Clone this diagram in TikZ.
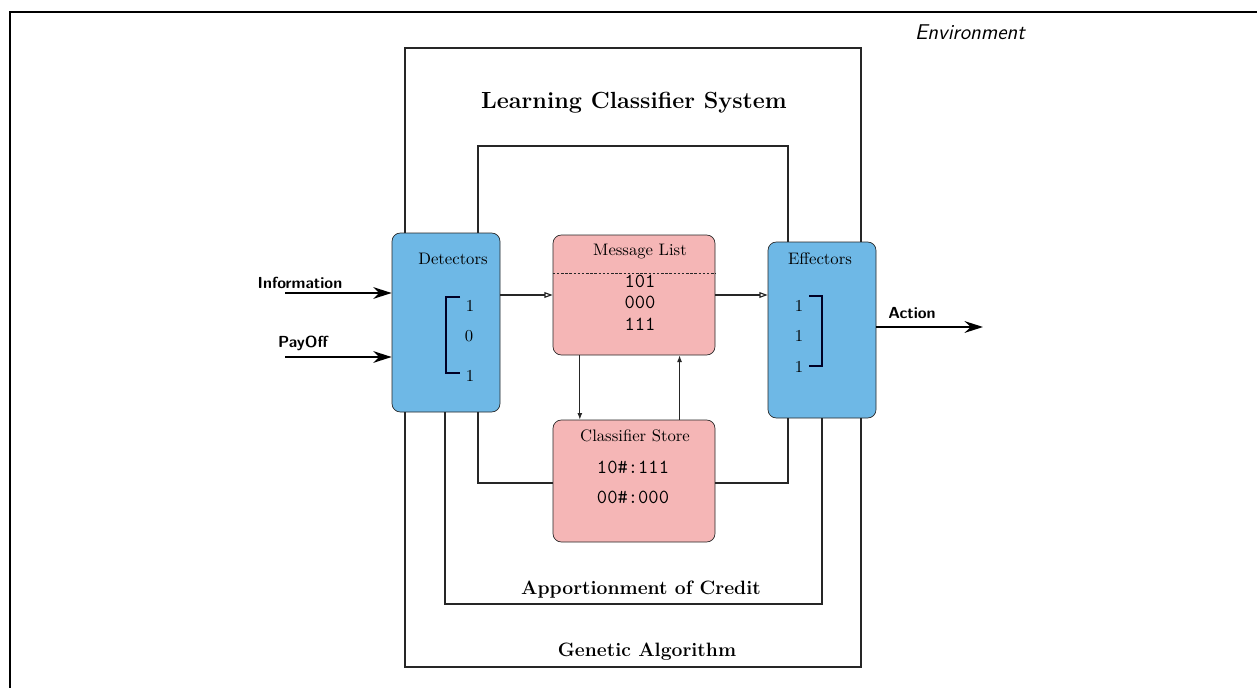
\documentclass[tikz,border=0pt]{standalone}
\usepackage{xcolor}
\usepackage{tikz}
\usetikzlibrary{calc,arrows.meta}
\definecolor{skyb}{RGB}{110,184,230}
\definecolor{rosy}{RGB}{245,182,182}
\colorlet{edge}{black!85}
\colorlet{ink}{black!75!blue!60!black}
\tikzstyle{bl}=[draw=edge,fill=skyb,rounded corners=5pt,inner sep=0pt,minimum width=64.8pt]
\tikzstyle{pk}=[draw=edge,fill=rosy,rounded corners=5pt,inner sep=0pt,minimum width=97.2pt]
\tikzstyle{wire}=[draw=edge,line width=0.7pt]
\tikzstyle{inarr}=[-{Stealth[length=11pt,width=7pt]},line width=1.3pt]
\tikzstyle{openarr}=[wire,-{Triangle[open,length=5pt,width=3.5pt]}]
\tikzstyle{tiparr}=[wire,-{Latex[length=4pt,width=3pt]}]
\tikzstyle{brk}=[draw=ink,line width=0.9pt]
\tikzstyle{loud}=[font=\fontsize{11.6}{13}\selectfont\bfseries]
\tikzstyle{port}=[font=\fontsize{9.6}{11}\selectfont\sffamily\bfseries]

\begin{document}
\begin{tikzpicture}[x=0.6pt,y=-0.6pt]
\useasboundingbox (0,0) rectangle (1257,688);
\draw[line width=1.4pt] (10,688) -- (10,12) -- (1257,12);
\node[font=\fontsize{12.8}{15}\selectfont\sffamily\itshape] (env) at (970,32) {Environment};
\node[font=\fontsize{14}{16}\selectfont\bfseries] (lcs) at (634,103) {Learning Classifier System};

% boxes
\node[bl,minimum height=107.4pt] (detect) at (446,322.5) {};
\node[bl,minimum height=105.6pt] (effect) at (822,330) {};
\node[pk,minimum height=72pt] (msglist) at (634,295) {};
\node[pk,minimum height=73.2pt] (store) at (634,481) {};

\node (detlbl) at (453,259) {Detectors};
\node (d1) at (470,306) {1};
\node (d2) at (469,336) {0};
\node (d3) at (470,376) {1};
\draw[brk] (460,297) -- (446,297) -- (446,373) -- (460,373);

\node (efflbl) at (820,259) {Effectors};
\node (e1) at (799,306) {1};
\node (e2) at (799,336) {1};
\node (e3) at (799,367) {1};
\draw[brk] (809,296) -- (822,296) -- (822,366) -- (809,366);

\node (mllbl) at (640,252) {Message List};
\draw[edge,dash pattern=on 1.5pt off 1pt] ($(msglist.west)+(0,-22)$) -- ($(msglist.east)+(0,-22)$);
\node[font=\large\ttfamily] (m1) at (640,281) {101};
\node[font=\large\ttfamily] (m2) at (640,302) {000};
\node[font=\large\ttfamily] (m3) at (640,324) {111};

\node (cslbl) at (635,436) {Classifier Store};
\node[font=\large\ttfamily] (c1) at (633,467) {10\#:111};
\node[font=\large\ttfamily] (c2) at (633,497) {00\#:000};

% genetic algorithm
\coordinate (ga-nw) at (405,48);
\coordinate (ga-se) at (861,667);
\draw[wire] (detect.north -| ga-nw) -- (ga-nw) -| (effect.north -| ga-se);
\draw[wire] (detect.south -| ga-nw) |- (ga-se) -- (effect.south -| ga-se);
\node[loud] (ga) at (647,652) {Genetic Algorithm};

% apportionment of credit
\coordinate (ac-l) at (445,604);
\coordinate (ac-r) at (822,604);
\draw[wire] (detect.south -| ac-l) -- (ac-l) -- (ac-r) -- (effect.south -| ac-r);
\node[loud] (ac) at (641,590) {Apportionment of Credit};

% inner loops
\coordinate (top-l) at (478,146);
\coordinate (top-r) at (788,146);
\draw[wire] (detect.north -| top-l) -- (top-l) -- (top-r) -- (effect.north -| top-r);
\coordinate (low-l) at (478,483);
\coordinate (low-r) at (788,483);
\draw[wire] (detect.south -| low-l) -- (low-l) -- (store.west |- low-l);
\draw[wire] (store.east |- low-r) -- (low-r) -- (effect.south -| low-r);

% message flow
\draw[openarr] (detect.east |- msglist.west) -- (msglist.west);
\draw[openarr] (msglist.east) -- (effect.west |- msglist.east);
\coordinate (dn) at ($(msglist.south west)!0.167!(msglist.south east)$);
\coordinate (up) at ($(msglist.south west)!0.78!(msglist.south east)$);
\draw[tiparr] (dn) -- (dn |- store.north);
\draw[tiparr] (up |- store.north) -- (up);

% inputs and output
\coordinate (info-in) at (285,293);
\coordinate (pay-in) at (285,357);
\coordinate (act-out) at (983,327);
\draw[inarr] (info-in) -- (info-in -| detect.west);
\draw[inarr] (pay-in) -- (pay-in -| detect.west);
\draw[inarr] (act-out -| effect.east) -- (act-out);
\node[port] (info) at (300,283) {Information};
\node[port] (pay) at (303,343) {PayOff};
\node[port] (act) at (912,313) {Action};
\end{tikzpicture}
\end{document}
